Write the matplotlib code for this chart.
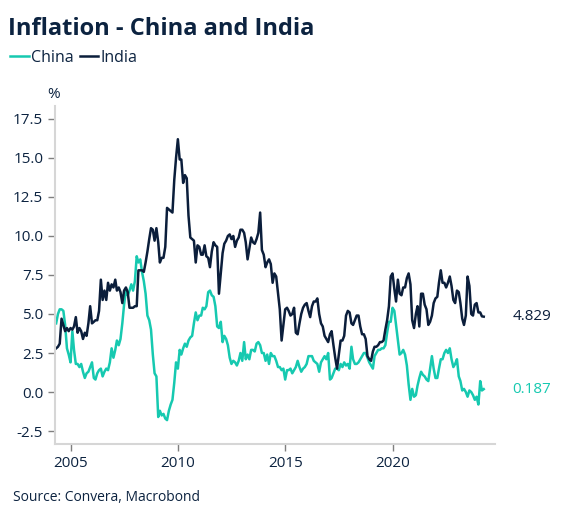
import numpy as np
import pandas as pd
import matplotlib
matplotlib.use("Agg")
import matplotlib.pyplot as plt
import matplotlib.dates as mdates

plt.rcParams['font.family'] = ['Open Sans', 'DejaVu Sans']

# monthly y/y inflation, May 2004 .. Apr 2024
china = [
    4.4, 5.0, 5.3, 5.3, 5.2, 4.3, 2.8, 2.4,
    1.9, 3.9, 2.7, 1.8, 1.8, 1.6, 1.8, 1.3, 0.9, 1.2, 1.3, 1.6,
    1.9, 0.9, 0.8, 1.2, 1.4, 1.5, 1.0, 1.3, 1.5, 1.4, 1.9, 2.8,
    2.2, 2.7, 3.3, 3.0, 3.4, 4.4, 5.6, 6.5, 6.2, 6.5, 6.9, 6.5,
    7.1, 8.7, 8.3, 8.5, 7.7, 7.1, 6.3, 4.9, 4.6, 4.0, 2.4, 1.2,
    1.0, -1.6, -1.2, -1.5, -1.4, -1.7, -1.8, -1.2, -0.8, -0.5, 0.6, 1.9,
    1.5, 2.7, 2.4, 2.8, 3.1, 2.9, 3.3, 3.5, 3.6, 4.4, 5.1, 4.6,
    4.9, 4.9, 5.4, 5.3, 5.5, 6.4, 6.5, 6.2, 6.1, 5.5, 4.2, 4.1,
    4.5, 3.2, 3.6, 3.4, 3.0, 2.2, 1.8, 2.0, 1.9, 1.7, 2.0, 2.5,
    2.0, 3.2, 2.1, 2.4, 2.1, 2.7, 2.7, 2.6, 3.1, 3.2, 3.0, 2.5,
    2.5, 2.0, 2.4, 1.8, 2.5, 2.3, 2.3, 2.0, 1.6, 1.6, 1.4, 1.5,
    0.8, 1.4, 1.4, 1.5, 1.2, 1.4, 1.6, 2.0, 1.6, 1.3, 1.5, 1.6,
    1.8, 2.3, 2.3, 2.3, 2.0, 1.9, 1.8, 1.3, 1.9, 2.1, 2.3, 2.1,
    2.5, 0.8, 0.9, 1.2, 1.5, 1.5, 1.4, 1.8, 1.6, 1.9, 1.7, 1.8,
    1.5, 2.9, 2.1, 1.8, 1.8, 1.9, 2.1, 2.3, 2.5, 2.5, 2.2, 1.9,
    1.7, 1.5, 2.3, 2.5, 2.7, 2.7, 2.8, 2.8, 3.0, 3.8, 4.5, 4.5,
    5.4, 5.2, 4.3, 3.3, 2.4, 2.5, 2.7, 2.4, 1.7, 0.5, -0.5, 0.2,
    -0.3, -0.2, 0.4, 0.9, 1.3, 1.1, 1.0, 0.8, 0.7, 1.5, 2.3, 1.5,
    0.9, 0.9, 1.5, 2.1, 2.1, 2.5, 2.7, 2.5, 2.8, 2.1, 1.6, 1.8,
    2.1, 1.0, 0.7, 0.1, 0.2, 0.0, -0.3, 0.1, 0.0, -0.2, -0.5, -0.3,
    -0.8, 0.7, 0.1, 0.187,
]
india = [
    2.8, 2.9, 3.1, 4.7, 4.3, 3.9, 4.1, 3.9,
    4.1, 4.0, 4.2, 4.8, 3.8, 4.1, 3.9, 3.4, 3.8, 3.6, 4.4, 5.5,
    4.4, 4.5, 4.6, 4.6, 5.2, 7.2, 5.9, 6.5, 5.9, 7.0, 6.5, 6.9,
    6.7, 7.2, 6.5, 6.7, 6.4, 5.7, 6.5, 6.7, 6.4, 5.4, 5.4, 5.4,
    5.5, 5.5, 7.8, 7.8, 7.8, 7.7, 8.3, 9.0, 9.8, 10.5, 10.4, 9.7,
    10.5, 9.6, 8.3, 8.6, 8.6, 9.3, 11.8, 11.7, 11.6, 11.5, 13.6, 15.0,
    16.2, 14.9, 14.9, 13.4, 13.9, 13.7, 11.3, 9.9, 9.8, 9.7, 8.3, 9.4,
    9.3, 8.8, 8.8, 9.4, 8.7, 8.6, 8.0, 9.0, 9.6, 9.4, 9.3, 6.3,
    7.6, 8.9, 9.5, 9.7, 10.0, 10.1, 9.8, 10.0, 9.3, 9.7, 9.9, 10.4,
    10.4, 10.2, 9.6, 8.5, 9.2, 9.9, 9.6, 9.5, 9.8, 10.2, 11.5, 9.1,
    8.8, 8.0, 8.3, 8.5, 8.2, 7.0, 7.6, 7.4, 6.3, 5.3, 3.3, 4.3,
    5.3, 5.4, 5.2, 4.9, 5.0, 5.4, 3.8, 3.7, 4.4, 5.0, 5.4, 5.6,
    5.7, 5.2, 4.8, 5.5, 5.8, 5.8, 6.0, 5.0, 4.4, 4.2, 3.6, 3.4,
    3.2, 3.7, 3.9, 3.0, 2.2, 1.5, 2.4, 3.3, 3.3, 3.6, 4.9, 5.2,
    5.1, 4.4, 4.3, 4.6, 4.9, 4.9, 4.2, 3.7, 3.7, 3.4, 2.3, 2.1,
    2.0, 2.6, 2.9, 2.9, 3.0, 3.2, 3.2, 3.3, 4.0, 4.6, 5.5, 7.4,
    7.6, 6.6, 5.8, 7.2, 6.3, 6.2, 6.7, 6.7, 7.3, 7.6, 6.9, 4.6,
    4.1, 5.0, 5.5, 4.2, 6.3, 6.3, 5.6, 5.3, 4.3, 4.5, 4.9, 5.7,
    6.0, 6.1, 7.0, 7.8, 7.0, 7.0, 6.7, 7.0, 7.4, 6.8, 5.9, 5.7,
    6.5, 6.4, 5.7, 4.7, 4.3, 4.9, 7.4, 6.8, 5.0, 4.9, 5.6, 5.7,
    5.1, 5.1, 4.85, 4.829,
]
dates = pd.date_range("2004-05-01", periods=len(china), freq="MS")

teal = "#16c9b0"
navy = "#0b1e3b"
txt = "#0c2340"

fig = plt.figure(figsize=(5.66, 5.21), dpi=100)
ax = fig.add_axes([0.0972, 0.1478, 0.777, 0.6488])

ax.plot(dates, china, color=teal, lw=1.8, label="China")
ax.plot(dates, india, color=navy, lw=1.8, label="India")

ax.set_ylim(-3.33, 18.33)
ax.set_xlim(pd.Timestamp("2004-04-12"), pd.Timestamp("2024-10-06"))
ax.set_yticks(np.arange(-2.5, 17.6, 2.5))
ax.yaxis.set_major_formatter(plt.FuncFormatter(lambda v, p: f"{v:.1f}"))
ax.xaxis.set_major_locator(mdates.YearLocator(5))
ax.xaxis.set_major_formatter(mdates.DateFormatter("%Y"))

for s in ["top", "right"]:
    ax.spines[s].set_visible(False)
for s in ["left", "bottom"]:
    ax.spines[s].set_color("#d6d6d6")
    ax.spines[s].set_linewidth(1.5)
ax.tick_params(axis="both", colors="#7f7f7f", length=5, width=1,
               labelcolor=txt, labelsize=11)

ax.annotate("%", xy=(0, 1), xycoords="axes fraction", xytext=(-1, 8.5),
            textcoords="offset points", ha="center", va="center",
            color=txt, fontsize=11)

ax.annotate(f"{india[-1]:.3f}", xy=(1.04, india[-1]),
            xycoords=("axes fraction", "data"), va="center", ha="left",
            color=navy, fontsize=11)
ax.annotate(f"{china[-1]:.3f}", xy=(1.04, china[-1]),
            xycoords=("axes fraction", "data"), va="center", ha="left",
            color=teal, fontsize=11)

fig.text(0.014, 0.945, "Inflation - China and India", fontsize=17,
         fontweight="bold", color=txt, va="center")
ax.legend(loc="center left", bbox_to_anchor=(0.018, 0.889),
          bbox_transform=fig.transFigure, ncol=2, frameon=False,
          fontsize=11.5, handlelength=1.15, handletextpad=0.15,
          columnspacing=0.4, borderaxespad=0, borderpad=0,
          labelcolor=txt)
fig.text(0.023, 0.046, "Source: Convera, Macrobond", fontsize=10,
         color=txt, va="center")

fig.savefig("out.png", dpi=100)
